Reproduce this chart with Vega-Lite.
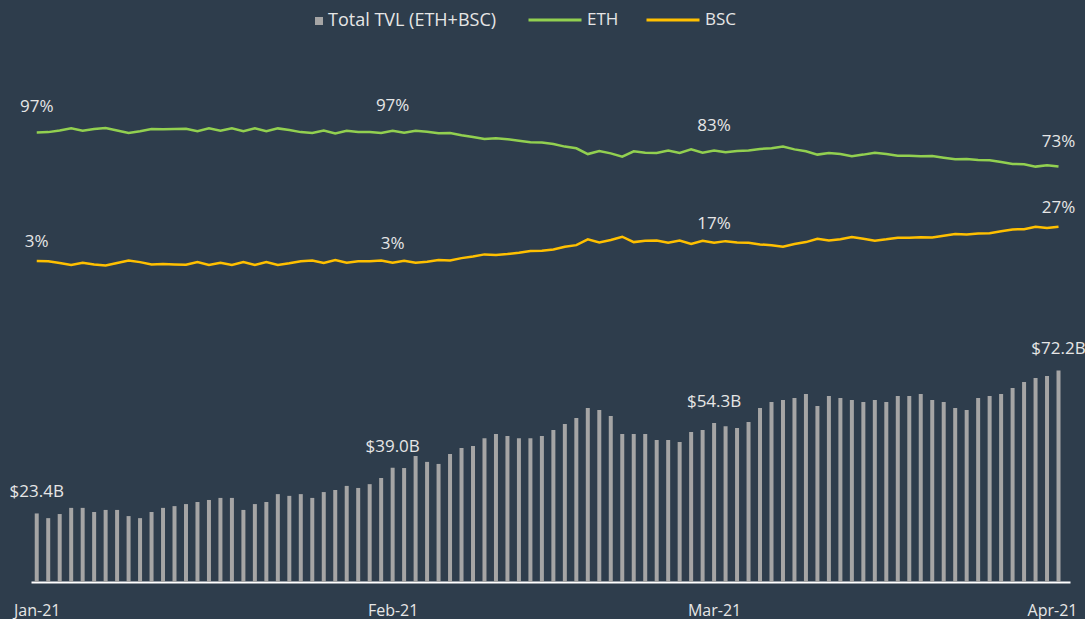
{
  "$schema": "https://vega.github.io/schema/vega-lite/v6.json",
  "width": 1039,
  "height": 542,
  "autosize": {"type": "none"},
  "padding": {"left": 31, "top": 40, "right": 15, "bottom": 37},
  "background": "#2e3d4c",
  "config": {"view": {"stroke": null}, "font": "Open Sans"},
  "data": {"values": [
    {"date": "2021-01-01", "tvl": 23.4, "ETH": 96.6, "BSC": 3.4, "tvlLabel": "$23.4B", "ethLabel": "97%", "bscLabel": "3%"},
    {"date": "2021-01-02", "tvl": 21.8, "ETH": 96.8, "BSC": 3.2},
    {"date": "2021-01-03", "tvl": 23.2, "ETH": 98.0, "BSC": 2.0},
    {"date": "2021-01-04", "tvl": 25.3, "ETH": 99.5, "BSC": 0.5},
    {"date": "2021-01-05", "tvl": 25.3, "ETH": 97.8, "BSC": 2.2},
    {"date": "2021-01-06", "tvl": 23.9, "ETH": 99.1, "BSC": 0.9},
    {"date": "2021-01-07", "tvl": 24.6, "ETH": 99.8, "BSC": 0.2},
    {"date": "2021-01-08", "tvl": 24.6, "ETH": 98.0, "BSC": 2.0},
    {"date": "2021-01-09", "tvl": 22.5, "ETH": 96.2, "BSC": 3.8},
    {"date": "2021-01-10", "tvl": 21.8, "ETH": 97.4, "BSC": 2.6},
    {"date": "2021-01-11", "tvl": 23.9, "ETH": 99.1, "BSC": 0.9},
    {"date": "2021-01-12", "tvl": 25.3, "ETH": 98.8, "BSC": 1.2},
    {"date": "2021-01-13", "tvl": 25.9, "ETH": 99.1, "BSC": 0.9},
    {"date": "2021-01-14", "tvl": 26.6, "ETH": 99.3, "BSC": 0.7},
    {"date": "2021-01-15", "tvl": 27.3, "ETH": 97.4, "BSC": 2.6},
    {"date": "2021-01-16", "tvl": 28.0, "ETH": 99.5, "BSC": 0.5},
    {"date": "2021-01-17", "tvl": 28.7, "ETH": 97.8, "BSC": 2.2},
    {"date": "2021-01-18", "tvl": 28.7, "ETH": 99.5, "BSC": 0.5},
    {"date": "2021-01-19", "tvl": 24.6, "ETH": 97.4, "BSC": 2.6},
    {"date": "2021-01-20", "tvl": 26.6, "ETH": 99.5, "BSC": 0.5},
    {"date": "2021-01-21", "tvl": 27.3, "ETH": 97.4, "BSC": 2.6},
    {"date": "2021-01-22", "tvl": 30.0, "ETH": 99.5, "BSC": 0.5},
    {"date": "2021-01-23", "tvl": 29.4, "ETH": 98.3, "BSC": 1.7},
    {"date": "2021-01-24", "tvl": 30.0, "ETH": 96.8, "BSC": 3.2},
    {"date": "2021-01-25", "tvl": 28.7, "ETH": 96.2, "BSC": 3.8},
    {"date": "2021-01-26", "tvl": 30.7, "ETH": 98.0, "BSC": 2.0},
    {"date": "2021-01-27", "tvl": 31.4, "ETH": 95.9, "BSC": 4.1},
    {"date": "2021-01-28", "tvl": 32.8, "ETH": 97.8, "BSC": 2.2},
    {"date": "2021-01-29", "tvl": 32.1, "ETH": 96.8, "BSC": 3.2},
    {"date": "2021-01-30", "tvl": 33.4, "ETH": 96.8, "BSC": 3.2},
    {"date": "2021-01-31", "tvl": 35.5, "ETH": 96.2, "BSC": 3.8},
    {"date": "2021-02-01", "tvl": 39.0, "ETH": 97.8, "BSC": 2.2, "tvlLabel": "$39.0B", "ethLabel": "97%", "bscLabel": "3%"},
    {"date": "2021-02-02", "tvl": 38.9, "ETH": 96.4, "BSC": 3.6},
    {"date": "2021-02-03", "tvl": 43.0, "ETH": 97.8, "BSC": 2.2},
    {"date": "2021-02-04", "tvl": 41.0, "ETH": 97.1, "BSC": 2.9},
    {"date": "2021-02-05", "tvl": 40.3, "ETH": 95.9, "BSC": 4.1},
    {"date": "2021-02-06", "tvl": 43.7, "ETH": 96.2, "BSC": 3.8},
    {"date": "2021-02-07", "tvl": 45.7, "ETH": 94.5, "BSC": 5.5},
    {"date": "2021-02-08", "tvl": 46.4, "ETH": 93.3, "BSC": 6.7},
    {"date": "2021-02-09", "tvl": 49.1, "ETH": 91.8, "BSC": 8.2},
    {"date": "2021-02-10", "tvl": 50.5, "ETH": 92.3, "BSC": 7.7},
    {"date": "2021-02-11", "tvl": 49.8, "ETH": 91.6, "BSC": 8.4},
    {"date": "2021-02-12", "tvl": 49.1, "ETH": 90.6, "BSC": 9.4},
    {"date": "2021-02-13", "tvl": 49.1, "ETH": 89.4, "BSC": 10.6},
    {"date": "2021-02-14", "tvl": 49.8, "ETH": 89.2, "BSC": 10.8},
    {"date": "2021-02-15", "tvl": 51.9, "ETH": 88.2, "BSC": 11.8},
    {"date": "2021-02-16", "tvl": 53.9, "ETH": 86.3, "BSC": 13.7},
    {"date": "2021-02-17", "tvl": 56.0, "ETH": 85.1, "BSC": 14.9},
    {"date": "2021-02-18", "tvl": 59.4, "ETH": 80.9, "BSC": 19.1},
    {"date": "2021-02-19", "tvl": 58.7, "ETH": 83.1, "BSC": 16.9},
    {"date": "2021-02-20", "tvl": 56.7, "ETH": 81.4, "BSC": 18.6},
    {"date": "2021-02-21", "tvl": 50.5, "ETH": 79.0, "BSC": 21.0},
    {"date": "2021-02-22", "tvl": 50.5, "ETH": 82.9, "BSC": 17.1},
    {"date": "2021-02-23", "tvl": 50.5, "ETH": 81.9, "BSC": 18.1},
    {"date": "2021-02-24", "tvl": 48.5, "ETH": 81.7, "BSC": 18.3},
    {"date": "2021-02-25", "tvl": 48.5, "ETH": 83.4, "BSC": 16.6},
    {"date": "2021-02-26", "tvl": 47.8, "ETH": 81.7, "BSC": 18.3},
    {"date": "2021-02-27", "tvl": 51.2, "ETH": 84.3, "BSC": 15.7},
    {"date": "2021-02-28", "tvl": 51.9, "ETH": 81.9, "BSC": 18.1},
    {"date": "2021-03-01", "tvl": 54.3, "ETH": 83.4, "BSC": 16.6, "tvlLabel": "$54.3B", "ethLabel": "83%", "bscLabel": "17%"},
    {"date": "2021-03-02", "tvl": 53.2, "ETH": 82.2, "BSC": 17.8},
    {"date": "2021-03-03", "tvl": 52.6, "ETH": 83.1, "BSC": 16.9},
    {"date": "2021-03-04", "tvl": 54.6, "ETH": 83.4, "BSC": 16.6},
    {"date": "2021-03-05", "tvl": 59.4, "ETH": 84.6, "BSC": 15.4},
    {"date": "2021-03-06", "tvl": 61.4, "ETH": 85.1, "BSC": 14.9},
    {"date": "2021-03-07", "tvl": 62.1, "ETH": 86.3, "BSC": 13.7},
    {"date": "2021-03-08", "tvl": 62.8, "ETH": 84.3, "BSC": 15.7},
    {"date": "2021-03-09", "tvl": 64.2, "ETH": 82.9, "BSC": 17.1},
    {"date": "2021-03-10", "tvl": 60.1, "ETH": 80.5, "BSC": 19.5},
    {"date": "2021-03-11", "tvl": 63.5, "ETH": 81.7, "BSC": 18.3},
    {"date": "2021-03-12", "tvl": 62.8, "ETH": 80.9, "BSC": 19.1},
    {"date": "2021-03-13", "tvl": 62.1, "ETH": 79.3, "BSC": 20.7},
    {"date": "2021-03-14", "tvl": 61.4, "ETH": 80.5, "BSC": 19.5},
    {"date": "2021-03-15", "tvl": 62.1, "ETH": 81.9, "BSC": 18.1},
    {"date": "2021-03-16", "tvl": 61.4, "ETH": 80.9, "BSC": 19.1},
    {"date": "2021-03-17", "tvl": 63.5, "ETH": 79.7, "BSC": 20.3},
    {"date": "2021-03-18", "tvl": 63.5, "ETH": 79.7, "BSC": 20.3},
    {"date": "2021-03-19", "tvl": 64.2, "ETH": 79.3, "BSC": 20.7},
    {"date": "2021-03-20", "tvl": 62.1, "ETH": 79.5, "BSC": 20.5},
    {"date": "2021-03-21", "tvl": 61.4, "ETH": 78.3, "BSC": 21.7},
    {"date": "2021-03-22", "tvl": 59.4, "ETH": 77.1, "BSC": 22.9},
    {"date": "2021-03-23", "tvl": 58.7, "ETH": 77.3, "BSC": 22.7},
    {"date": "2021-03-24", "tvl": 62.8, "ETH": 76.6, "BSC": 23.4},
    {"date": "2021-03-25", "tvl": 63.5, "ETH": 76.4, "BSC": 23.6},
    {"date": "2021-03-26", "tvl": 64.2, "ETH": 75.1, "BSC": 24.9},
    {"date": "2021-03-27", "tvl": 66.2, "ETH": 73.7, "BSC": 26.3},
    {"date": "2021-03-28", "tvl": 68.3, "ETH": 73.5, "BSC": 26.5},
    {"date": "2021-03-29", "tvl": 69.6, "ETH": 71.8, "BSC": 28.2},
    {"date": "2021-03-30", "tvl": 70.3, "ETH": 72.7, "BSC": 27.3},
    {"date": "2021-03-31", "tvl": 72.2, "ETH": 71.8, "BSC": 28.2, "tvlLabel": "$72.2B", "ethLabel": "73%", "bscLabel": "27%"}
  ]},
  "encoding": {
    "x": {
      "field": "date",
      "type": "temporal",
      "scale": {"type": "utc", "padding": 0, "domain": [{"year": 2020, "month": 12, "date": 31, "hours": 12, "utc": true}, {"year": 2021, "month": 4, "date": 1, "utc": true}]},
      "axis": {
        "title": null,
        "format": "%b-%y",
        "tickCount": {"interval": "month", "step": 1},
        "grid": false,
        "ticks": false,
        "domainColor": "#ffffff",
        "domainWidth": 2,
        "labelColor": "#e6e6e6",
        "labelFont": "Open Sans",
        "labelFontSize": 16,
        "labelPadding": 20,
        "labelFlush": true,
        "labelFlushOffset": 7,
        "labelOverlap": false
      }
    }
  },
  "layer": [
    {
      "mark": {"type": "bar", "size": 4},
      "encoding": {
        "y": {"field": "tvl", "type": "quantitative", "scale": {"domain": [0, 185], "nice": false}, "axis": null},
        "fill": {
          "datum": "Total TVL (ETH+BSC)",
          "type": "nominal",
          "scale": {"range": ["#a5a5a5"]},
          "legend": {"title": null, "orient": "none", "legendX": 279, "legendY": -28, "symbolType": "square", "symbolSize": 64, "labelFont": "Open Sans", "labelFontSize": 18, "labelLimit": 400, "labelColor": "#e6e6e6", "labelOffset": 0, "padding": 0}
        }
      }
    },
    {
      "transform": [{"filter": "isValid(datum.tvlLabel)"}],
      "mark": {"type": "text", "dy": -16, "baseline": "alphabetic", "fontSize": 17, "color": "#e6e6e6", "font": "Open Sans"},
      "encoding": {
        "y": {"field": "tvl", "type": "quantitative", "scale": {"domain": [0, 185], "nice": false}, "axis": null},
        "text": {"field": "tvlLabel"}
      }
    },
    {
      "transform": [{"fold": ["ETH", "BSC"], "as": ["series", "share"]}],
      "mark": {"type": "line", "strokeWidth": 2.5},
      "encoding": {
        "y": {"field": "share", "type": "quantitative", "scale": {"domain": [-229.2, 163.55], "nice": false, "zero": false}, "axis": null},
        "stroke": {
          "field": "series",
          "type": "nominal",
          "scale": {"domain": ["ETH", "BSC"], "range": ["#92d050", "#ffc000"]},
          "legend": {"title": null, "orient": "none", "legendX": 496, "legendY": -48, "direction": "horizontal", "symbolType": "stroke", "symbolSize": 2809, "symbolStrokeWidth": 3, "labelFont": "Open Sans", "labelFontSize": 17, "labelColor": "#e6e6e6", "labelOffset": 4, "columnPadding": 21, "padding": 0}
        }
      }
    },
    {
      "transform": [{"filter": "isValid(datum.ethLabel)"}],
      "mark": {"type": "text", "dy": -20, "baseline": "alphabetic", "fontSize": 17, "color": "#e6e6e6", "font": "Open Sans"},
      "encoding": {
        "y": {"field": "ETH", "type": "quantitative", "scale": {"domain": [-229.2, 163.55], "nice": false, "zero": false}, "axis": null},
        "text": {"field": "ethLabel"}
      }
    },
    {
      "transform": [{"filter": "isValid(datum.bscLabel)"}],
      "mark": {"type": "text", "dy": -14, "baseline": "alphabetic", "fontSize": 17, "color": "#e6e6e6", "font": "Open Sans"},
      "encoding": {
        "y": {"field": "BSC", "type": "quantitative", "scale": {"domain": [-229.2, 163.55], "nice": false, "zero": false}, "axis": null},
        "text": {"field": "bscLabel"}
      }
    }
  ],
  "resolve": {"scale": {"y": "independent"}}
}
